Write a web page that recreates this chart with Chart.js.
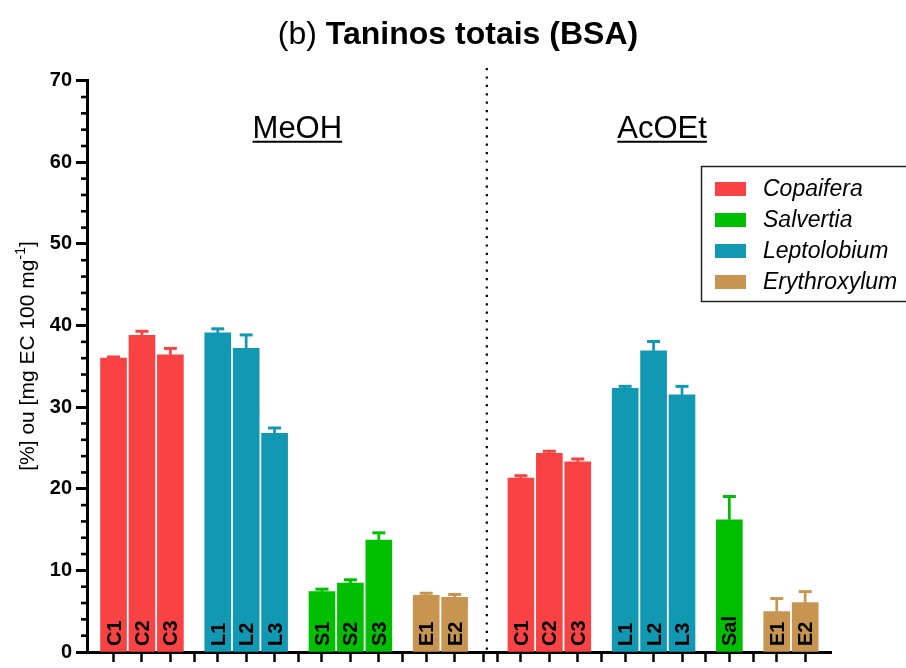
<!DOCTYPE html>
<html>
<head>
<meta charset="utf-8">
<script src="https://cdn.jsdelivr.net/npm/chart.js@4.4.0/dist/chart.umd.min.js"></script>
<style>
  html, body { margin: 0; padding: 0; background: #fff; }
  #wrap { width: 906px; height: 668px; }
</style>
</head>
<body>
<div id="wrap"><canvas id="my-chart" width="906" height="668"></canvas></div>
<script>
// genus names (legend) and colours
const genera = ['Copaifera', 'Salvertia', 'Leptolobium', 'Erythroxylum'];
const genusColors = ['#f94244', '#00bf00', '#1198b3', '#c79550'];

// extract groups
const groupNames = ['MeOH', 'AcOEt'];

// one entry per bar, left to right
const barLabels = ['C1', 'C2', 'C3', 'L1', 'L2', 'L3', 'S1', 'S2', 'S3', 'E1', 'E2',
                   'C1', 'C2', 'C3', 'L1', 'L2', 'L3', 'Sal', 'E1', 'E2'];
const barGenus  = [0, 0, 0, 2, 2, 2, 1, 1, 1, 3, 3,
                   0, 0, 0, 2, 2, 2, 1, 3, 3];
// slot of each bar on the x axis (gaps between species / extracts)
const barSlots  = [0, 3, 6, 11, 14, 17, 22, 25, 28, 33, 36,
                   43, 46, 49, 54, 57, 60, 65, 70, 73];
const barValues = [36.0, 38.8, 36.4, 39.1, 37.2, 26.8, 7.4, 8.45, 13.7, 6.95, 6.7,
                   21.3, 24.35, 23.3, 32.3, 36.9, 31.5, 16.2, 4.95, 6.05];
const barErrors = [0.15, 0.5, 0.8, 0.5, 1.65, 0.65, 0.3, 0.4, 0.9, 0.25, 0.35,
                   0.3, 0.25, 0.35, 0.25, 1.15, 1.05, 2.85, 1.6, 1.35];

// x axis tick slots in the gaps
const gapTicks = [8.5, 19.5, 30.5, 39, 40.5, 51.5, 62.5, 67.5];
const separatorSlot = 39.4;

const FONT = 'Arial, "Liberation Sans", sans-serif';

const datasets = genera.map((g, gi) => ({
	label: g,
	data: barSlots.map((s, i) => ({x: s, y: barValues[i], g: barGenus[i]}))
		.filter(p => p.g === gi)
		.map(p => ({x: p.x, y: p.y})),
	backgroundColor: genusColors[gi],
	borderWidth: 0,
	barThickness: 26
}));

const extras = {
	id: 'extras',
	afterDatasetsDraw(chart) {
		const ctx = chart.ctx;
		const x = chart.scales.x, y = chart.scales.y;
		const area = chart.chartArea;
		ctx.save();

		// error bars (upper only)
		barSlots.forEach((slot, i) => {
			const px = x.getPixelForValue(slot);
			const top = y.getPixelForValue(barValues[i]);
			const cap = y.getPixelForValue(barValues[i] + barErrors[i]);
			ctx.strokeStyle = genusColors[barGenus[i]];
			ctx.lineWidth = 2.7;
			ctx.beginPath();
			ctx.moveTo(px, top);
			ctx.lineTo(px, cap);
			ctx.stroke();
			ctx.lineWidth = 3;
			ctx.beginPath();
			ctx.moveTo(px - 6.5, cap);
			ctx.lineTo(px + 6.5, cap);
			ctx.stroke();
		});

		// labels inside bars
		ctx.fillStyle = '#000';
		ctx.font = 'bold 20px ' + FONT;
		ctx.textAlign = 'left';
		ctx.textBaseline = 'alphabetic';
		barSlots.forEach((slot, i) => {
			const px = x.getPixelForValue(slot);
			ctx.save();
			ctx.translate(px + 7, area.bottom - 6);
			ctx.rotate(-Math.PI / 2);
			ctx.fillText(barLabels[i], 0, 0);
			ctx.restore();
		});

		// minor y ticks
		ctx.strokeStyle = '#000';
		ctx.lineWidth = 2.6;
		for (let v = 2; v < 70; v += 2) {
			if (v % 10 === 0) continue;
			const py = y.getPixelForValue(v);
			ctx.beginPath();
			ctx.moveTo(area.left - 6, py);
			ctx.lineTo(area.left, py);
			ctx.stroke();
		}

		// dotted separator
		const sx = x.getPixelForValue(separatorSlot);
		ctx.lineWidth = 2.2;
		ctx.setLineDash([2.2, 6.2]);
		ctx.beginPath();
		ctx.moveTo(sx, 68);
		ctx.lineTo(sx, area.bottom);
		ctx.stroke();
		ctx.setLineDash([]);

		// extract names, underlined
		const groupCenters = [19.4, 57.9];
		ctx.font = '31px ' + FONT;
		ctx.textAlign = 'center';
		ctx.textBaseline = 'alphabetic';
		groupNames.forEach((n, i) => {
			const gx = x.getPixelForValue(groupCenters[i]);
			const gy = y.getPixelForValue(63);
			ctx.fillText(n, gx, gy);
			const w = ctx.measureText(n).width;
			ctx.lineWidth = 2;
			ctx.beginPath();
			ctx.moveTo(gx - w / 2, gy + 4);
			ctx.lineTo(gx + w / 2, gy + 4);
			ctx.stroke();
		});

		// title: (b) normal + bold rest
		const t1 = '(b) ', t2 = 'Taninos totais (BSA)';
		ctx.textAlign = 'left';
		ctx.font = '32px ' + FONT;
		const w1 = ctx.measureText(t1).width;
		ctx.font = 'bold 32px ' + FONT;
		const w2 = ctx.measureText(t2).width;
		let tx = 458 - (w1 + w2) / 2;
		ctx.font = '32px ' + FONT;
		ctx.fillText(t1, tx, 44);
		ctx.font = 'bold 32px ' + FONT;
		ctx.fillText(t2, tx + w1, 44);

		// y axis title with superscript
		const a1 = '[%] ou [mg EC 100 mg', sup = '-1', a3 = ']';
		ctx.font = '21px ' + FONT;
		const wa1 = ctx.measureText(a1).width;
		const wa3 = ctx.measureText(a3).width;
		ctx.font = '14px ' + FONT;
		const wsup = ctx.measureText(sup).width;
		const total = wa1 + wsup + wa3;
		ctx.save();
		ctx.translate(34, 356);
		ctx.rotate(-Math.PI / 2);
		ctx.font = '21px ' + FONT;
		ctx.fillText(a1, -total / 2, 0);
		ctx.font = '14px ' + FONT;
		ctx.fillText(sup, -total / 2 + wa1, -9);
		ctx.font = '21px ' + FONT;
		ctx.fillText(a3, -total / 2 + wa1 + wsup, 0);
		ctx.restore();

		// legend box
		ctx.lineWidth = 1.5;
		ctx.strokeStyle = '#222';
		ctx.strokeRect(701.5, 166.5, 210, 135);
		ctx.font = 'italic 23px ' + FONT;
		ctx.textBaseline = 'middle';
		genera.forEach((g, i) => {
			const ry = 189 + i * 31;
			ctx.fillStyle = genusColors[i];
			ctx.fillRect(715, ry - 7, 31, 14);
			ctx.fillStyle = '#000';
			ctx.fillText(g, 763, ry + 1);
		});

		ctx.restore();
	}
};

const ctxBar = document.getElementById('my-chart').getContext('2d');
const myChartBar = new Chart(ctxBar, {
	type: 'bar',
	data: { datasets: datasets },
	options: {
		responsive: false,
		animation: false,
		grouped: false,
		layout: { padding: { left: 0, top: 80.7, right: 74.3, bottom: 0 } },
		plugins: {
			legend: { display: false },
			tooltip: { enabled: false }
		},
		scales: {
			x: {
				type: 'linear',
				offset: false,
				min: -2.8,
				max: 75.8,
				afterBuildTicks: (scale) => {
					scale.ticks = barSlots.concat(gapTicks).sort((a, b) => a - b).map(v => ({value: v}));
				},
				afterFit: (scale) => { scale.height = 5; },
				ticks: { display: false },
				grid: { offset: false, drawOnChartArea: false, drawTicks: true, tickLength: 10, tickWidth: 2.5, tickColor: '#000' },
				border: { color: '#000', width: 3 }
			},
			y: {
				min: 0,
				max: 70,
				afterFit: (scale) => { scale.width = 87; },
				ticks: {
					stepSize: 10,
					color: '#000',
					padding: 4,
					font: { family: FONT, size: 20, weight: 'bold' }
				},
				grid: { drawOnChartArea: false, drawTicks: true, tickLength: 11, tickWidth: 3, tickColor: '#000' },
				border: { color: '#000', width: 3 }
			}
		}
	},
	plugins: [extras]
});
</script>
</body>
</html>
